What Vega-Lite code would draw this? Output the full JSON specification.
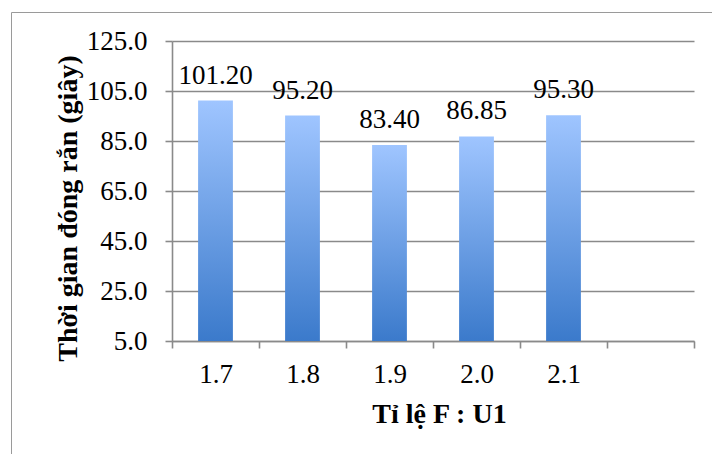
{
  "$schema": "https://vega.github.io/schema/vega-lite/v6.json",
  "autosize": "none",
  "width": 707,
  "height": 450,
  "padding": {"left": 11, "top": 12, "right": -6, "bottom": -8},
  "background": "white",
  "config": {
    "view": {"stroke": "#9a9a9a", "strokeWidth": 1},
    "axis": {
      "labelFont": "Liberation Serif, DejaVu Serif, serif",
      "labelFontSize": 27,
      "labelFontWeight": "normal",
      "labelColor": "#000000",
      "titleFont": "Liberation Serif, DejaVu Serif, serif",
      "titleFontWeight": "bold",
      "titleColor": "#000000",
      "domainColor": "#8a8a8a",
      "domainWidth": 1.6,
      "tickColor": "#8a8a8a",
      "tickWidth": 1.6,
      "tickSize": 7,
      "gridColor": "#8a8a8a",
      "gridWidth": 1.6,
      "gridOpacity": 1
    }
  },
  "data": {
    "values": [
      {"ratio": "1.7", "time": 101.20},
      {"ratio": "1.8", "time": 95.20},
      {"ratio": "1.9", "time": 83.40},
      {"ratio": "2.0", "time": 86.85},
      {"ratio": "2.1", "time": 95.30}
    ]
  },
  "encoding": {
    "x": {
      "field": "ratio",
      "type": "nominal",
      "sort": null,
      "scale": {
        "domain": ["1.7", "1.8", "1.9", "2.0", "2.1", ""],
        "range": [161, 683],
        "paddingInner": 0,
        "paddingOuter": 0
      },
      "axis": {
        "orient": "bottom",
        "offset": -121,
        "title": "Tỉ lệ F : U1",
        "titleFontSize": 28,
        "titleX": 428,
        "titleY": 81,
        "titleBaseline": "alphabetic",
        "labelAngle": 0,
        "labelPadding": 13,
        "tickBand": "extent",
        "grid": false
      }
    },
    "y": {
      "field": "time",
      "type": "quantitative",
      "scale": {"domain": [5, 125], "range": [329, 29], "nice": false, "zero": false},
      "axis": {
        "orient": "left",
        "offset": -161,
        "values": [5, 25, 45, 65, 85, 105, 125],
        "format": ".1f",
        "labelPadding": 18,
        "title": "Thời gian đóng rắn (giây)",
        "titleFontSize": 28,
        "titleAngle": -90,
        "titleX": -96,
        "titleY": 196,
        "titleAlign": "center",
        "titleBaseline": "alphabetic",
        "grid": true
      }
    }
  },
  "layer": [
    {
      "mark": {
        "type": "bar",
        "width": {"band": 0.4},
        "fill": {
          "gradient": "linear",
          "x1": 0, "y1": 0, "x2": 0, "y2": 1,
          "stops": [
            {"offset": 0, "color": "#9fc5ff"},
            {"offset": 1, "color": "#3b7acb"}
          ]
        }
      },
      "encoding": {"y2": {"datum": 5}}
    },
    {
      "mark": {
        "type": "text",
        "font": "Liberation Serif, DejaVu Serif, serif",
        "fontSize": 27,
        "fontWeight": "normal",
        "color": "#000000",
        "baseline": "alphabetic",
        "dy": -17
      },
      "encoding": {
        "text": {"field": "time", "type": "quantitative", "format": ".2f"}
      }
    }
  ]
}
